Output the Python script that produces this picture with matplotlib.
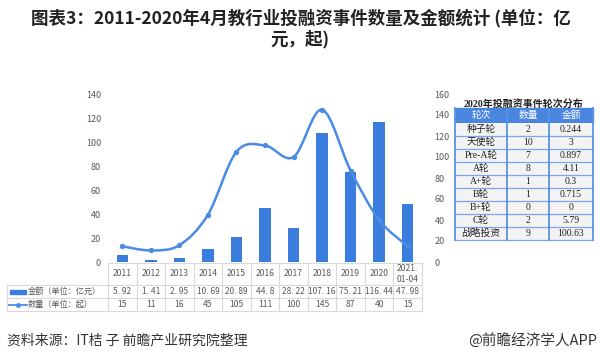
import numpy as np
import matplotlib.pyplot as plt
from matplotlib.path import Path
from matplotlib.patches import PathPatch, Rectangle
from matplotlib.lines import Line2D
import matplotlib.transforms as mtransforms

plt.rcParams['font.family'] = ['Noto Sans CJK SC', 'DejaVu Sans']

years = ['2011', '2012', '2013', '2014', '2015', '2016', '2017', '2018', '2019', '2020', '2021.\n01-04']
amount = [5.92, 1.41, 2.95, 10.69, 20.89, 44.8, 28.22, 107.16, 75.21, 116.44, 47.98]
count = [15, 11, 16, 45, 105, 111, 100, 145, 87, 40, 15]

rounds = ['种子轮', '天使轮', 'Pre-A轮', 'A轮', 'A+轮', 'B轮', 'B+轮', 'C轮', '战略投资']
round_counts = [2, 10, 7, 8, 1, 1, 0, 2, 9]
round_amounts = [0.244, 3, 0.897, 4.11, 0.3, 0.715, 0, 5.79, 100.63]

blue = '#3b7ddd'
line_blue = '#4a8be6'
gray = '#595959'
W, H = 600, 361

def fx(x):
    return x / W

def fy(y):
    return 1 - y / H

fig = plt.figure(figsize=(6, 3.61), dpi=100)
ax = fig.add_axes([fx(108), fy(262), fx(422 - 108), (262 - 94) / H])
ax2 = ax.twinx()

x = np.arange(len(years))
ax.bar(x, amount, width=0.4, color=blue, zorder=2)
ax.set_xlim(-0.5, len(years) - 0.5)
ax.set_ylim(0, 140)
ax.set_yticks(range(0, 141, 20))
ax2.set_ylim(0, 160)
ax2.set_yticks(range(0, 161, 20))
ax.set_xticks([])
for a in (ax, ax2):
    for s in a.spines.values():
        s.set_visible(False)
    a.tick_params(length=0, labelsize=6.5, labelcolor=gray)
ax.tick_params(axis='y', pad=5)
ax2.tick_params(axis='y', pad=9)

# smooth count line (Catmull-Rom -> Bezier through the data points)
pts = np.column_stack([x, count]).astype(float)
verts = [tuple(pts[0])]
codes = [Path.MOVETO]
n = len(pts)
for i in range(n - 1):
    p0 = pts[max(i - 1, 0)]
    p1 = pts[i]
    p2 = pts[i + 1]
    p3 = pts[min(i + 2, n - 1)]
    c1 = p1 + (p2 - p0) / 6
    c2 = p2 - (p3 - p1) / 6
    verts += [tuple(c1), tuple(c2), tuple(p2)]
    codes += [Path.CURVE4] * 3
ax2.add_patch(PathPatch(Path(verts, codes), facecolor='none', edgecolor=line_blue, lw=1.8, zorder=3))
ax2.plot(x, count, 'o', color=line_blue, ms=2.8, zorder=4)

# data table under the chart
tcol = mtransforms.blended_transform_factory(ax.transData, fig.transFigure)
lc = '#d9d9d9'
row_lines = [263, 285, 298, 311]
fig.add_artist(Line2D([fx(108), fx(422)], [fy(263)] * 2, color=lc, lw=0.8))
for yl in row_lines[1:]:
    fig.add_artist(Line2D([fx(7), fx(422)], [fy(yl)] * 2, color=lc, lw=0.8))
for i in range(len(years) + 1):
    fig.add_artist(Line2D([i - 0.5] * 2, [fy(263), fy(311)], color=lc, lw=0.8, transform=tcol))
fig.add_artist(Line2D([fx(7)] * 2, [fy(285), fy(311)], color=lc, lw=0.8))
for i, yr in enumerate(years):
    fig.text(i, fy(274), yr, transform=tcol, ha='center', va='center', fontsize=6.2, color=gray, linespacing=1.4)
    fig.text(i, fy(291.5), f'{amount[i]:g}'.replace('.', '. '), transform=tcol, ha='center', va='center',
             fontsize=6.0, color=gray)
    fig.text(i, fy(304.5), str(count[i]), transform=tcol, ha='center', va='center', fontsize=6.2, color=gray)
fig.add_artist(Rectangle((fx(10), fy(293.5)), fx(16), 4 / H, color=blue))
fig.text(fx(28), fy(291.5), '金额（单位：亿元）', ha='left', va='center', fontsize=5.9, color=gray)
fig.add_artist(Line2D([fx(9), fx(27)], [fy(304.5)] * 2, color=line_blue, lw=1.3))
fig.add_artist(Line2D([fx(18)], [fy(304.5)], color=line_blue, marker='o', ms=2.5, lw=0))
fig.text(fx(28), fy(304.5), '数量（单位：起）', ha='left', va='center', fontsize=5.9, color=gray)

# round table on the right
tfam = ['Liberation Serif', 'Noto Sans CJK SC']
cols = [455, 507, 549, 593]
fig.text(fx(524), fy(103.5), '2020年投融资事件轮次分布', ha='center', va='center', fontsize=7.2,
         fontweight='bold', color='#222222', family=tfam)
fig.add_artist(Rectangle((fx(455), fy(123)), fx(593 - 455), 15 / H, color='#4a86e0'))
for c0, c1, hd in zip(cols[:-1], cols[1:], ['轮次', '数量', '金额']):
    fig.text(fx((c0 + c1) / 2), fy(115.5), hd, ha='center', va='center', fontsize=7, color='white', family=tfam)
rh = 13
for k, (r, c, a) in enumerate(zip(rounds, round_counts, round_amounts)):
    y0 = 123 + k * rh
    fig.add_artist(Rectangle((fx(455), fy(y0 + rh)), fx(593 - 455), rh / H, color='#f3f3f3', lw=0))
    for c0, c1, tx in zip(cols[:-1], cols[1:], [r, str(c), f'{a:g}']):
        fig.text(fx((c0 + c1) / 2), fy(y0 + rh / 2), tx, ha='center', va='center', fontsize=7,
                 color='#222222', family=tfam)
    fig.add_artist(Line2D([fx(455), fx(593)], [fy(y0 + rh)] * 2, color='#7aa7ec', lw=0.9))
for cx in cols:
    fig.add_artist(Line2D([fx(cx)] * 2, [fy(108), fy(123 + 9 * rh)], color='#5b93e6', lw=1.3))

# title and footer
fig.text(0.502, fy(18), '图表3：2011-2020年4月教行业投融资事件数量及金额统计 (单位：亿', ha='center', va='center',
         fontsize=12.6, fontweight='bold', color='#222222')
fig.text(0.5, fy(39), '元，起)', ha='center', va='center', fontsize=12.6, fontweight='bold', color='#222222')
fig.text(fx(7), fy(340), '资料来源：IT桔 子 前瞻产业研究院整理', ha='left', va='center', fontsize=10, color='#333333')
fig.text(fx(597), fy(340), '@前瞻经济学人APP', ha='right', va='center', fontsize=10.5, color='#333333')

fig.savefig('out.png', dpi=100)
